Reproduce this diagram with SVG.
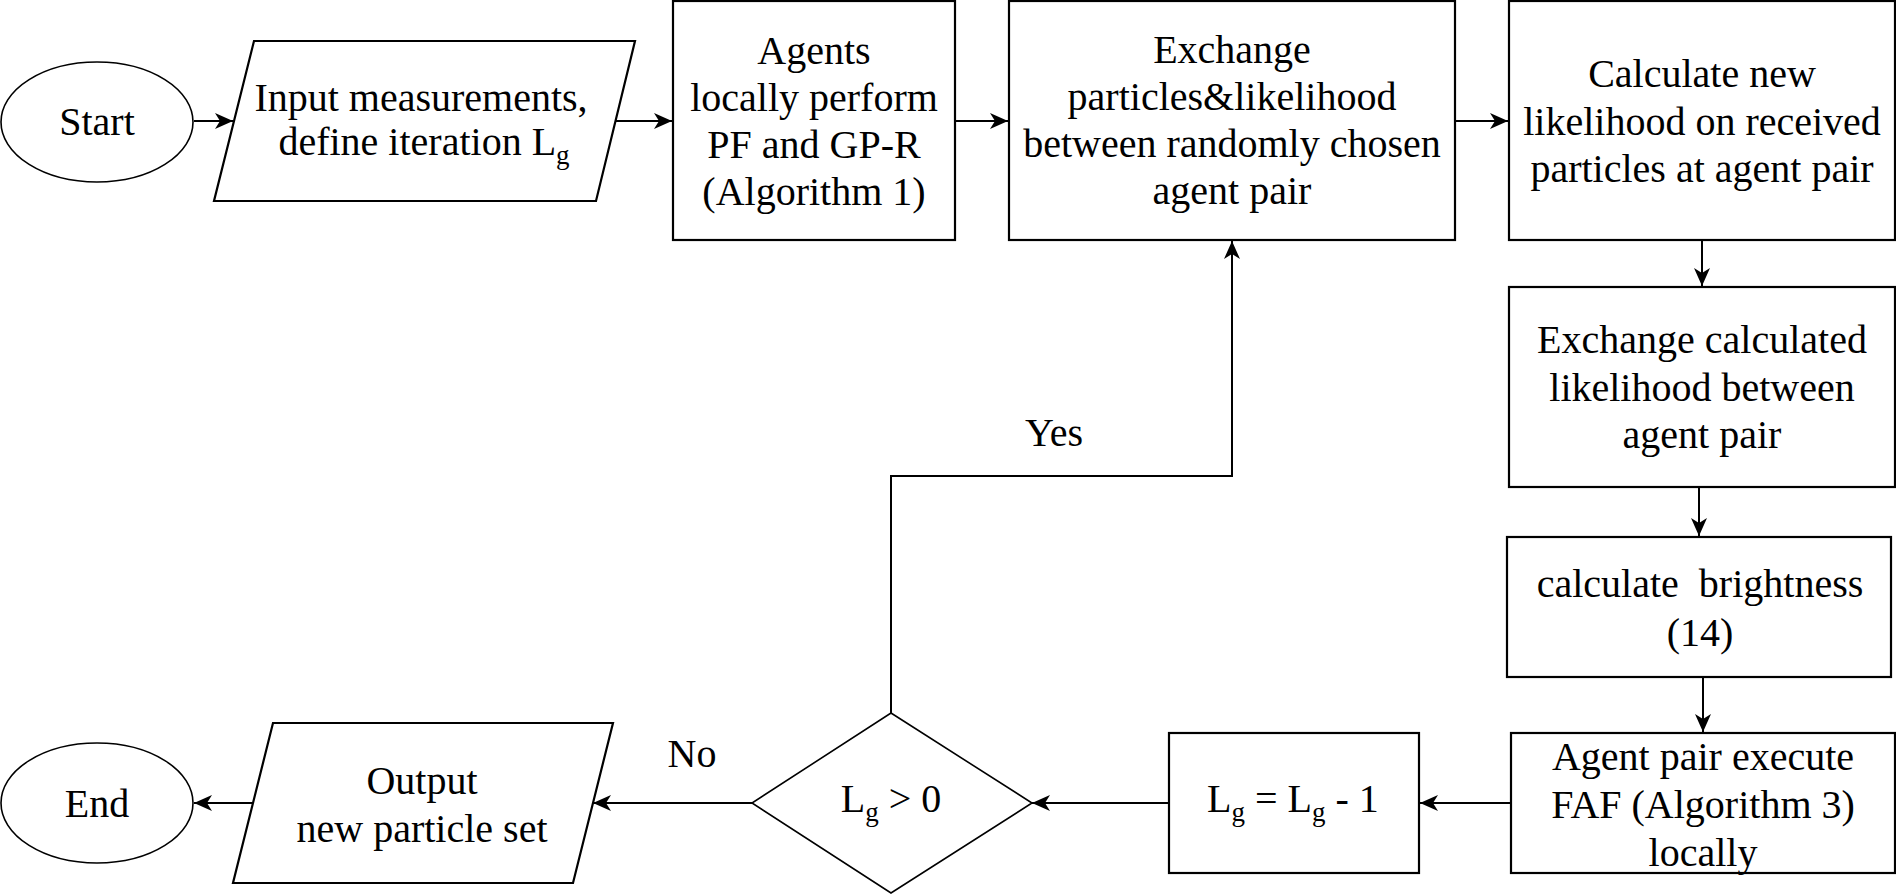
<svg xmlns="http://www.w3.org/2000/svg" width="1896" height="894" viewBox="0 0 1896 894">
<style>
.shape{fill:#fff;stroke:#000;stroke-width:2.2}
.thin{fill:#fff;stroke:#000;stroke-width:1.6}
text{font-family:'Liberation Serif','Times New Roman',serif;font-size:40px;fill:#000;text-anchor:middle}
.sub{font-size:27px}
.edge{fill:none;stroke:#000;stroke-width:2}
</style>
<defs>
<marker id="arr" markerUnits="userSpaceOnUse" markerWidth="20" markerHeight="18" refX="18" refY="8" orient="auto">
<path d="M0,0 L18,8 L0,16 L5,8 Z" fill="#000"/>
</marker>
</defs>
<rect width="1896" height="894" fill="#fff"/>
<g id="connectors" font-family="Liberation Serif, serif">
<path class="edge" d="M194,121 H233" marker-end="url(#arr)"/>
<path class="edge" d="M615,121 H672" marker-end="url(#arr)"/>
<path class="edge" d="M955,121 H1008" marker-end="url(#arr)"/>
<path class="edge" d="M1455,121 H1508" marker-end="url(#arr)"/>
<path class="edge" d="M1702,240 V286" marker-end="url(#arr)"/>
<path class="edge" d="M1699,487 V536" marker-end="url(#arr)"/>
<path class="edge" d="M1703,677 V732" marker-end="url(#arr)"/>
<path class="edge" d="M1511,803 H1420" marker-end="url(#arr)"/>
<path class="edge" d="M1169,803 H1032" marker-end="url(#arr)"/>
<path class="edge" d="M891,713 V476 H1232 V241" marker-end="url(#arr)"/>
<path class="edge" d="M752,803 H593" marker-end="url(#arr)"/>
<path class="edge" d="M253,803 H194" marker-end="url(#arr)"/>
<text x="1054" y="446">Yes</text>
<text x="692" y="767">No</text>
</g>
<g id="start">
<ellipse class="thin" cx="97" cy="122" rx="96" ry="60"/>
<text x="97" y="135">Start</text>
</g>
<g id="input">
<polygon class="shape" points="254,41 635,41 596,201 214,201"/>
<text x="421" y="111">Input measurements,</text>
<text x="424" y="155">define iteration L<tspan class="sub" dy="9">g</tspan></text>
</g>
<g id="agents">
<rect class="shape" x="673" y="1" width="282" height="239"/>
<text x="814" y="64">Agents</text>
<text x="814" y="111">locally perform</text>
<text x="814" y="158">PF and GP-R</text>
<text x="814" y="205">(Algorithm 1)</text>
</g>
<g id="exchange">
<rect class="shape" x="1009" y="1" width="446" height="239"/>
<text x="1232" y="63">Exchange</text>
<text x="1232" y="110">particles&amp;likelihood</text>
<text x="1232" y="157">between randomly chosen</text>
<text x="1232" y="204">agent pair</text>
</g>
<g id="calcnew">
<rect class="shape" x="1509" y="1" width="386" height="239"/>
<text x="1702" y="87">Calculate new</text>
<text x="1702" y="135">likelihood on received</text>
<text x="1702" y="182">particles at agent pair</text>
</g>
<g id="exchcalc">
<rect class="shape" x="1509" y="287" width="386" height="200"/>
<text x="1702" y="353">Exchange calculated</text>
<text x="1702" y="401">likelihood between</text>
<text x="1702" y="448">agent pair</text>
</g>
<g id="brightness">
<rect class="shape" x="1507" y="537" width="384" height="140"/>
<text x="1700" y="597" xml:space="preserve">calculate  brightness</text>
<text x="1700" y="646">(14)</text>
</g>
<g id="faf">
<rect class="shape" x="1511" y="733" width="384" height="140"/>
<text x="1703" y="770">Agent pair execute</text>
<text x="1703" y="818">FAF (Algorithm 3)</text>
<text x="1703" y="866">locally</text>
</g>
<g id="decrement">
<rect class="shape" x="1169" y="733" width="250" height="140"/>
<text x="1293" y="812">L<tspan class="sub" dy="9">g</tspan><tspan dy="-9"> = L</tspan><tspan class="sub" dy="9">g</tspan><tspan dy="-9"> - 1</tspan></text>
</g>
<g id="decision">
<polygon class="thin" points="891,713 1032,803 891,893 752,803"/>
<text x="891" y="812">L<tspan class="sub" dy="9">g</tspan><tspan dy="-9"> &gt; 0</tspan></text>
</g>
<g id="output">
<polygon class="shape" points="273,723 613,723 573,883 233,883"/>
<text x="422" y="794">Output</text>
<text x="422" y="842">new particle set</text>
</g>
<g id="end">
<ellipse class="thin" cx="97" cy="803" rx="96" ry="60"/>
<text x="97" y="817">End</text>
</g>
</svg>
